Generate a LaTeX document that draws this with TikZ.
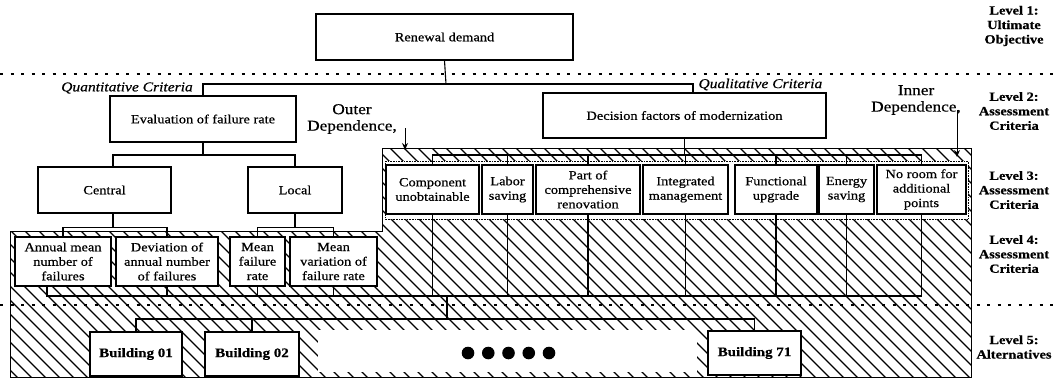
\documentclass[tikz,border=0pt]{standalone}
\usepackage{fontspec}
\setmainfont{Liberation Serif}[FakeStretch=1.15, FakeBold=0.6]
\usetikzlibrary{arrows.meta}
\tikzset{
  box/.style={draw, line width=1.1pt, fill=white, inner sep=1pt, align=center, font=\fontsize{12.5}{15}\selectfont},
  sbox/.style={box, font=\fontsize{12.5}{14.5}\selectfont},
  bbox/.style={box, font=\fontsize{13}{15}\bfseries},
  conn/.style={line width=1.1pt},
  hatch/.style={line width=1.2pt},
  sep/.style={line width=1.7pt, dash pattern=on 3pt off 7.5pt},
  lvl/.style={align=center, font=\fontsize{12.5}{14.5}\bfseries},
  dep/.style={align=center, font=\fontsize{15}{16.5}\selectfont},
  crit/.style={font=\fontsize{13.5}{15}\itshape},
  deparrow/.style={line width=0.9pt, -{Stealth[length=7pt,width=6pt]}}
}
\begin{document}
\begin{tikzpicture}[x=1pt, y=-1pt]
\useasboundingbox (0,0) rectangle (1057,383);

% hatched region
\begin{scope}
\clip (10,231) -- (382,231) -- (382,148) -- (971,148) -- (971,377) -- (10,377) -- cycle;
\foreach \x in {-240,-226,...,980} \draw[hatch] (\x,148) -- ++(232,232);
\end{scope}
\fill[white] (385,161) rectangle (968,219);
\draw[line width=0.6pt, densely dotted] (385,161) rectangle (968,219);
\fill[white] (318,330) rectangle (697,372);
\draw[line width=1pt] (10,231) -- (382,231) -- (382,148) -- (971,148) -- (971,377) -- (10,377) -- cycle;

% level separators
\draw[sep] (0,74) -- (1057,74);
\draw[sep] (0,305) -- (1057,305);

% level 1 and 2
\node[box, minimum width=257pt, minimum height=46pt] (ren) at (444.5,37) {Renewal demand};
\node[box, minimum width=186pt, minimum height=46pt] (eval) at (203,119) {Evaluation of failure rate};
\node[box, minimum width=283pt, minimum height=45pt] (dec) at (684.5,115.5) {Decision factors of modernization};
\node[box, minimum width=133pt, minimum height=46pt] (cen) at (104.5,190) {Central};
\node[box, minimum width=94pt, minimum height=46pt] (loc) at (295,190) {Local};

% level 4 boxes
\node[sbox, minimum width=96pt, minimum height=49pt] (ann) at (63,261.5) {Annual mean\\number of\\failures};
\node[sbox, minimum width=102pt, minimum height=49pt] (dev) at (167,261.5) {Deviation of\\annual number\\of failures};
\node[sbox, minimum width=55pt, minimum height=49pt] (mfr) at (257.5,261.5) {Mean\\failure\\rate};
\node[sbox, minimum width=87pt, minimum height=49pt] (mvf) at (333.5,261.5) {Mean\\variation of\\failure rate};

% level 3 boxes
\node[sbox, minimum width=93pt, minimum height=49pt] (comp) at (432.5,189.5) {Component\\unobtainable};
\node[sbox, minimum width=51pt, minimum height=49pt] (labor) at (507.5,189.5) {Labor\\saving};
\node[sbox, minimum width=104pt, minimum height=49pt] (part) at (588,189.5) {Part of\\comprehensive\\renovation};
\node[sbox, minimum width=85pt, minimum height=49pt] (integ) at (685.5,189.5) {Integrated\\management};
\node[sbox, minimum width=82pt, minimum height=49pt] (func) at (776,189.5) {Functional\\upgrade};
\node[sbox, minimum width=55pt, minimum height=49pt] (energy) at (846.5,189.5) {Energy\\saving};
\node[sbox, minimum width=89pt, minimum height=49pt] (noroom) at (921.5,189.5) {No room for\\additional\\points};

% level 5 boxes
\node[bbox, minimum width=92pt, minimum height=44pt] (b01) at (136,354) {Building 01};
\node[bbox, minimum width=94pt, minimum height=44pt] (b02) at (252,354) {Building 02};
\node[bbox, minimum width=93pt, minimum height=44pt] (b71) at (754.5,353) {Building 71};
\foreach \i in {0,...,4} \fill (468+20.25*\i,353) circle (6.3pt);

% connectors
\coordinate (b1) at (446,84);
\draw[conn] (ren.south) -- (b1);
\draw[conn] (eval.north) |- (b1) -| ([xshift=8.5pt]dec.north);
\coordinate (b2) at (203,155);
\draw[conn] (eval.south) -- (b2);
\draw[conn] ([xshift=8.5pt]cen.north) |- (b2) -| (loc.north);
\draw[conn] ([xshift=8.5pt]cen.south) -- ++(0,14) coordinate (b3);
\draw[conn] (ann.north) |- (b3) -| (dev.north);
\draw[conn] (loc.south) -- ++(0,14) coordinate (b4);
\draw[conn] (mfr.north) |- (b4) -| (mvf.north);
\coordinate (b5) at (684.5,155);
\draw[conn] (dec.south) -- (b5);
\draw[conn] (comp.north) |- (b5) -| (noroom.north);
\foreach \n in {labor,part,integ,func,energy} \draw[conn] (\n.north) -- (\n.north |- b5);
\coordinate (b6) at (447,296);
\draw[conn] ([xshift=-16pt]ann.south) |- (b6) -| (noroom.south);
\foreach \n in {dev,mfr,mvf,comp,labor,part,integ,func,energy} \draw[conn] (\n.south) -- (\n.south |- b6);
\coordinate (b7) at (447,319);
\draw[conn] (b6) -- (b7);
\draw[conn] (b01.north) |- (b7) -| (b71.north);
\draw[conn] (b02.north) -- (b02.north |- b7);

% criteria labels
\node[crit] (quan) at (127,88) {Quantitative Criteria};
\node[crit, anchor=west] (qual) at (695,84.5) {Qualitative Criteria};

% dependence labels
\node[dep] (outer) at (352,119) {Outer\\Dependence,};
\coordinate (outerend) at (405,150);
\draw[deparrow] (405,128) -- (outerend);
\node[dep] (inner) at (916,100) {Inner\\Dependence,};
\coordinate (innerend) at (957,157);
\draw[deparrow] (957,110) -- (innerend);

% level labels
\node[lvl] (l1) at (1014,26) {Level 1:\\Ultimate\\Objective};
\node[lvl] (l2) at (1014,111) {Level 2:\\Assessment\\Criteria};
\node[lvl] (l3) at (1014,190) {Level 3:\\Assessment\\Criteria};
\node[lvl] (l4) at (1014,254) {Level 4:\\Assessment\\Criteria};
\node[lvl] (l5) at (1014,347) {Level 5:\\Alternatives};
\end{tikzpicture}
\end{document}
